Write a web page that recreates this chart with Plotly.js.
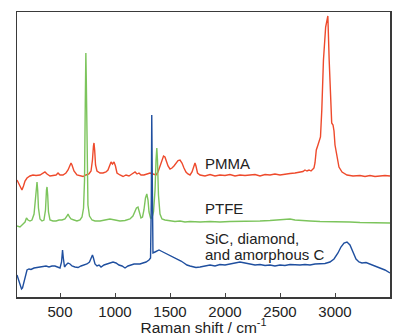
<!DOCTYPE html>
<html>
<head>
<meta charset="utf-8">
<script src="https://cdn.plot.ly/plotly-3.0.1.min.js"></script>
<style>html,body{margin:0;padding:0;background:#fff}#chart{width:393px;height:336px}</style>
</head>
<body>
<div id="chart"></div>
<script>
// Raman shift (cm^-1) and intensity (arbitrary, offset) per spectrum
const pmmaX = [109,127,145,154,168,182,200,227,254,282,318,345,363,382,409,436,464,482,500,527,554,573,591,600,609,627,654,682,709,736,763,782,795,804,809,815,823,836,864,891,918,936,954,964,977,991,1004,1018,1045,1073,1100,1127,1154,1182,1200,1218,1236,1263,1291,1318,1345,1373,1391,1409,1427,1441,1454,1468,1482,1500,1518,1536,1554,1573,1591,1609,1627,1645,1663,1682,1700,1718,1727,1736,1750,1773,1818,1864,1909,1954,2000,2045,2091,2136,2182,2227,2273,2318,2364,2409,2454,2500,2545,2591,2636,2682,2709,2727,2745,2764,2782,2800,2809,2818,2830,2845,2855,2868,2880,2895,2915,2935,2947,2960,2970,2982,2991,3000,3018,3036,3064,3109,3164,3227,3273,3318,3364,3409,3454,3500];
const pmmaY = [117,113,108,107,111,116,119,121,122,121.5,122,123.5,125,123,121,121.5,122,124,122,122,124,127,132,134,132,126,122,121,120.5,122,123,126,137,151,154,147,132,126,124,124,125,127,133,135,133,135,131,124,122,120.5,122,121,123,125,123,124,122,122,123,124,123,122,125,131,138,141,140,135,131,128,129,131,134,136.5,137,134,129,125,123,122,125,133,134,131,124,122,121,122.5,121,122,121.5,122.5,121,122,121.5,122,122.5,121,122.5,122,123,122,123,123.5,124,125,125.5,127,126,127,126,128,129,134,147,152,155,160,187,237,270,281,237,187,174,172,166,152,140,130,125,122,121,121.5,120.5,121.5,120.5,121,121.5,121];

const ptfeX = [109,136,164,182,195,209,227,245,264,277,286,291,297,304,318,336,354,368,377,382,388,395,409,436,464,491,518,545,564,573,586,600,627,654,682,700,714,723,730,735,739,745,754,768,791,818,864,909,954,1000,1045,1091,1136,1163,1182,1195,1209,1223,1236,1250,1263,1277,1289,1300,1309,1323,1336,1350,1364,1373,1380,1386,1395,1409,1427,1454,1500,1545,1591,1636,1682,1773,1864,1954,2045,2136,2227,2318,2409,2500,2545,2591,2636,2682,2773,2864,2954,3045,3136,3227,3318,3409,3500];
const ptfeY = [71,70,73,75,79,77,76,77,83,97,113,115,107,89,78,76,77,87,107,110,102,85,77,76,76,77,77,78,81,83,80,78,77,76,77,80,89,117,197,244,217,137,92,81,77,76,76,77,78,77,76,76.5,78,81,85,89,90,85,79,80,87,99,103,97,85,79,79,85,107,137,149,137,102,83,78,77,76,75.5,76,75,75.5,75,75.5,75,75.5,75.5,76,76,76.5,77,77.5,78,77,76.5,76,75.5,75.5,75,75,74.5,74.5,74,74];

const sicX = [109,123,136,150,159,173,186,200,218,236,264,291,318,345,373,400,427,454,482,500,514,523,530,541,554,573,591,609,636,664,691,718,745,768,782,795,804,818,836,855,873,900,927,954,982,1009,1036,1064,1091,1118,1145,1173,1200,1227,1254,1282,1309,1323,1330,1334,1339,1345,1364,1382,1400,1418,1436,1463,1491,1518,1545,1573,1600,1627,1654,1682,1709,1736,1773,1818,1864,1909,1954,2000,2045,2091,2136,2182,2227,2273,2318,2364,2409,2454,2500,2545,2591,2636,2682,2727,2773,2818,2864,2909,2954,2991,3027,3054,3082,3109,3136,3164,3191,3218,3245,3282,3318,3364,3409,3454,3500];
const sicY = [22,17,12,8,9,15,22,27,28,27.5,29,29.5,30,30,31,30,31,31,30,29,35,47,39,30,32,34,33,31,30,29.5,31,32,33,35,38,42,39,33,31,32,30,32,33,34,35,34,32,31,29,31,32,33,33,33,34,35,37,39,97,182,117,44,45,46,47,46,45,44,42,41,39,38,36,34,32,31,30,29.5,30,31,32,31,32.5,32,33,34,35,34,33,32,32.5,31.5,32,31,32,31.5,32.5,32,32,32.5,32,33,33,33.5,35,38,44,50,54,55,52,45,38,35,34,34.5,33,31,29,27,24];

const labels = ["PMMA", "PTFE", "SiC, diamond,", "and amorphous C"];
const tickVals = [500,1000,1500,2000,2500,3000];

const font = "Liberation Sans, Arial, Helvetica, sans-serif";
const traces = [
  {x: pmmaX, y: pmmaY, mode: "lines", line: {color: "#ee4a2c", width: 1.4}},
  {x: ptfeX, y: ptfeY, mode: "lines", line: {color: "#7cc45c", width: 1.4}},
  {x: sicX, y: sicY, mode: "lines", line: {color: "#1f4f9f", width: 1.4}}
];
const layout = {
  width: 393, height: 336,
  margin: {l: 17, r: 3, t: 12, b: 39},
  showlegend: false,
  paper_bgcolor: "#fff", plot_bgcolor: "#fff",
  font: {family: font, size: 15, color: "#222"},
  xaxis: {
    range: [109, 3500], tickvals: tickVals, ticktext: tickVals.map(String),
    ticks: "inside", ticklen: 4, tickwidth: 1, tickcolor: "#444",
    showline: true, mirror: true, linecolor: "#3a3a3a", linewidth: 1.5,
    showgrid: false, zeroline: false,
    tickfont: {family: font, size: 15, color: "#222"},
    title: {text: "Raman shift / cm<sup>-1</sup>", font: {family: font, size: 15.5, color: "#222"}, standoff: 4}
  },
  yaxis: {
    range: [0, 285], showticklabels: false, ticks: "",
    showline: true, mirror: true, linecolor: "#3a3a3a", linewidth: 1.5,
    showgrid: false, zeroline: false
  },
  annotations: [
    {x: 1800, y: 134, text: labels[0]},
    {x: 1800, y: 89, text: labels[1]},
    {x: 1800, y: 59, text: labels[2]},
    {x: 1800, y: 43, text: labels[3]}
  ].map(a => Object.assign(a, {xref: "x", yref: "y", xanchor: "left", yanchor: "middle", showarrow: false, font: {family: font, size: 15, color: "#222"}}))
};
Plotly.newPlot("chart", traces, layout, {displayModeBar: false, staticPlot: true});
</script>
</body>
</html>
